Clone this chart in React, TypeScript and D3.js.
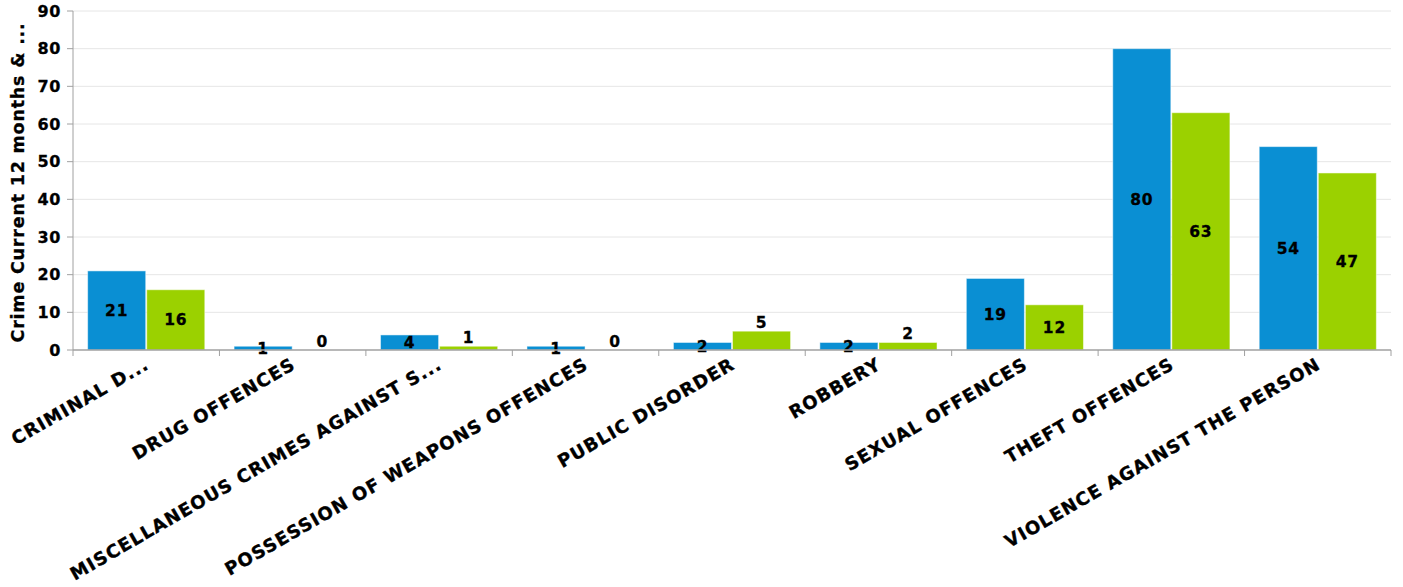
import React from "react";
import * as d3 from "d3";

const categories = [
  "CRIMINAL D...",
  "DRUG OFFENCES",
  "MISCELLANEOUS CRIMES AGAINST S...",
  "POSSESSION OF WEAPONS OFFENCES",
  "PUBLIC DISORDER",
  "ROBBERY",
  "SEXUAL OFFENCES",
  "THEFT OFFENCES",
  "VIOLENCE AGAINST THE PERSON",
];
const currentValues = [21, 1, 4, 1, 2, 2, 19, 80, 54];
const previousValues = [16, 0, 1, 0, 5, 2, 12, 63, 47];
const yTicks = [0, 10, 20, 30, 40, 50, 60, 70, 80, 90];
const yTitle = "Crime Current 12 months & ...";

const W = 1403;
const H = 587;
const left = 73;
const right = 1391;
const top = 11;
const bottom = 350;
const FONT = "'DejaVu Sans', Verdana, sans-serif";
const BLUE = "#0a8fd3";
const GREEN = "#9bd100";

export default function App() {
  const x = d3.scaleBand<string>().domain(categories).range([left, right]).paddingInner(0).paddingOuter(0);
  const step = x.bandwidth();
  const groupPad = step * 0.1;
  const gap = 1;
  const bw = (step - 2 * groupPad - gap) / 2;
  const y = d3.scaleLinear().domain([0, 90]).range([bottom, top]);

  const series = [
    { key: "cur", values: currentValues, color: BLUE },
    { key: "prev", values: previousValues, color: GREEN },
  ];

  return (
    <div style={{ position: "absolute", left: 0, top: 0 }}>
      <svg width={W} height={H} style={{ display: "block" }}>
        <rect x={0} y={0} width={W} height={H} fill="#ffffff" />
        {yTicks.map((t) => (
          <g key={t}>
            {t > 0 && <line x1={left} x2={right} y1={y(t)} y2={y(t)} stroke="#e6e6e6" strokeWidth={1} />}
            <line x1={left - 6} x2={left} y1={y(t)} y2={y(t)} stroke="#a0a0a0" strokeWidth={1} />
            <text x={left - 12} y={y(t)} dy="0.35em" textAnchor="end" fontFamily={FONT} fontWeight="bold" fontSize={16} letterSpacing={0.6} stroke="#000" strokeWidth={0.3} fill="#000">
              {t}
            </text>
          </g>
        ))}
        <line x1={left} x2={left} y1={top} y2={bottom} stroke="#a0a0a0" strokeWidth={1} />
        {series.map((s, si) =>
          categories.map((c, i) => {
            const v = s.values[i];
            const bx = (x(c) as number) + groupPad + si * (bw + gap);
            const by = y(v);
            const bh = bottom - by;
            const above = si === 1 && bh < 40;
            const ly = above ? by - 9 : by + bh / 2;
            return (
              <g key={s.key + i}>
                {bh > 0 && (
                  <rect x={bx} y={by} width={bw} height={bh} fill={s.color} stroke="rgba(255,255,255,0.5)" strokeWidth={1} />
                )}
                <text x={bx + bw / 2} y={ly} dy="0.36em" textAnchor="middle" fontFamily={FONT} fontWeight="bold" fontSize={15.5} letterSpacing={0.8} stroke="#000" strokeWidth={0.3} fill="#000">
                  {v}
                </text>
              </g>
            );
          })
        )}
        <line x1={left} x2={right} y1={bottom} y2={bottom} stroke="#a0a0a0" strokeWidth={1.5} />
        {categories.map((c, i) => (
          <line key={"t" + i} x1={x(c) as number} x2={x(c) as number} y1={bottom} y2={bottom + 6} stroke="#a0a0a0" strokeWidth={1} />
        ))}
        <line x1={right} x2={right} y1={bottom} y2={bottom + 6} stroke="#a0a0a0" strokeWidth={1} />
        {categories.map((c, i) => {
          const cx = (x(c) as number) + step / 2 + 4;
          const ly = 368;
          return (
            <text
              key={"l" + i}
              x={cx}
              y={ly}
              textAnchor="end"
              transform={`rotate(-30 ${cx} ${ly})`}
              fontFamily={FONT}
              fontWeight="bold"
              fontSize={18}
              letterSpacing={1.1}
              stroke="#000"
              strokeWidth={0.35}
              fill="#000"
            >
              {c}
            </text>
          );
        })}
        <text
          transform={`translate(24 ${(top + bottom) / 2 + 2}) rotate(-90)`}
          textAnchor="middle"
          fontFamily={FONT}
          fontWeight="bold"
          fontSize={17.5}
          letterSpacing={0.8}
          stroke="#000"
          strokeWidth={0.3}
          fill="#000"
        >
          {yTitle}
        </text>
      </svg>
    </div>
  );
}
